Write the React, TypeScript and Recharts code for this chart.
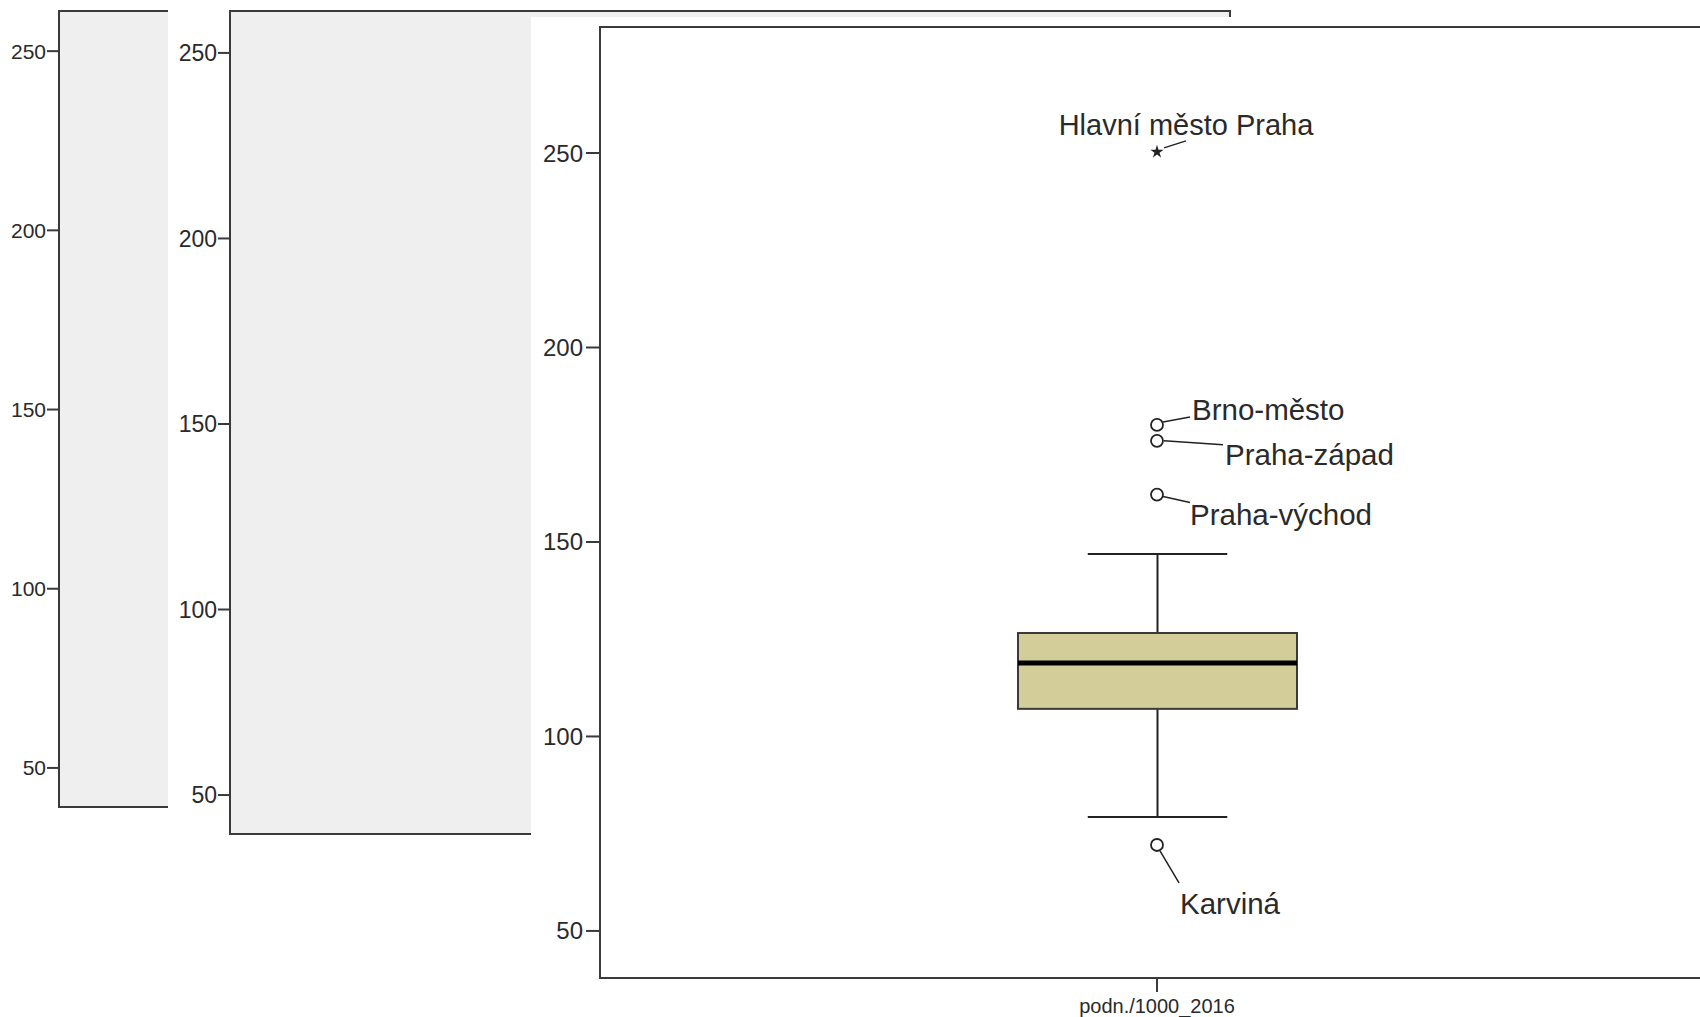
import { ComposedChart, XAxis, YAxis, Bar, Scatter, ReferenceArea } from "recharts";

// single variable on the x axis
const categories = ["podn./1000_2016"];

// box statistics per category
const whiskerLow = [79.3];
const quartile1 = [107.1];
const medianValues = [118.9];
const quartile3 = [126.6];
const whiskerHigh = [146.9];

// outliers (circles) and extremes (stars)
const outlierNames = ["Hlavní město Praha", "Brno-město", "Praha-západ", "Praha-východ", "Karviná"];
const outlierValues = [250.3, 180.1, 176.0, 162.2, 72.1];
const outlierExtreme = [true, false, false, false, false];

const yTicks = [50, 100, 150, 200, 250];

const FONT = '"Liberation Sans", Arial, sans-serif';
const INK = "#222";
const TEXT = "#2a2a2a";
const FRAME = "#3a3a3a";
const BOX_FILL = "#d3ce99";
const PANEL_GRAY = "#efefef";

const boxData = categories.map((name, i) => ({
  name,
  box: [quartile1[i], quartile3[i]],
  median: medianValues[i],
  low: whiskerLow[i],
  high: whiskerHigh[i],
}));

const outlierData = outlierNames.map((label, i) => ({
  name: categories[0],
  label,
  v: outlierValues[i],
  extreme: outlierExtreme[i],
}));

// where each label and its leader line sit relative to the point
const labelLayout: Record<string, { l: number[]; tx: number; ty: number; anchor: "start" | "middle"; size: number }> = {
  "Hlavní město Praha": { l: [7, -4, 29, -11], tx: 29, ty: -17, anchor: "middle", size: 29 },
  "Brno-město": { l: [6, -3, 33, -8], tx: 35, ty: -5, anchor: "start", size: 29.5 },
  "Praha-západ": { l: [7, 0, 66, 4], tx: 68, ty: 24, anchor: "start", size: 29.5 },
  "Praha-východ": { l: [6, 2, 33, 8], tx: 33, ty: 30, anchor: "start", size: 29.5 },
  "Karviná": { l: [3, 6, 22, 38], tx: 23, ty: 69, anchor: "start", size: 29.5 },
};

function BoxShape(props: any) {
  const { x, y, width, height, payload } = props;
  const top = Math.min(y, y + height);
  const h = Math.abs(height);
  const [q1, q3] = payload.box;
  const ppu = h / (q3 - q1);
  const toY = (v: number) => top + (q3 - v) * ppu;
  const cx = x + width / 2;
  const cap = width * 0.25;
  return (
    <g>
      <line x1={cx} x2={cx} y1={toY(payload.high)} y2={top} stroke={INK} strokeWidth={2} />
      <line x1={cx} x2={cx} y1={top + h} y2={toY(payload.low)} stroke={INK} strokeWidth={2} />
      <line x1={cx - cap} x2={cx + cap} y1={toY(payload.high)} y2={toY(payload.high)} stroke={INK} strokeWidth={2} />
      <line x1={cx - cap} x2={cx + cap} y1={toY(payload.low)} y2={toY(payload.low)} stroke={INK} strokeWidth={2} />
      <rect x={x} y={top} width={width} height={h} fill={BOX_FILL} stroke={FRAME} strokeWidth={2} />
      <line x1={x} x2={x + width} y1={toY(payload.median)} y2={toY(payload.median)} stroke="#000" strokeWidth={5} />
    </g>
  );
}

function starPoints(cx: number, cy: number, ro: number, ri: number) {
  const pts: string[] = [];
  for (let k = 0; k < 10; k++) {
    const r = k % 2 === 0 ? ro : ri;
    const a = -Math.PI / 2 + (k * Math.PI) / 5;
    pts.push(`${cx + r * Math.cos(a)},${cy + r * Math.sin(a)}`);
  }
  return pts.join(" ");
}

function OutlierShape(props: any) {
  const { cx, cy, payload } = props;
  if (cx == null || cy == null) return null;
  const lay = labelLayout[payload.label];
  return (
    <g>
      {payload.extreme ? (
        <polygon points={starPoints(cx, cy, 7, 2.6)} fill={INK} />
      ) : (
        <circle cx={cx} cy={cy} r={6} fill="#fff" stroke={INK} strokeWidth={1.8} />
      )}
      <line
        x1={cx + lay.l[0]}
        y1={cy + lay.l[1]}
        x2={cx + lay.l[2]}
        y2={cy + lay.l[3]}
        stroke={INK}
        strokeWidth={1.5}
      />
      <text
        x={cx + lay.tx}
        y={cy + lay.ty}
        textAnchor={lay.anchor}
        fontSize={lay.size}
        fontFamily={FONT}
        fill={TEXT}
      >
        {payload.label}
      </text>
    </g>
  );
}

interface BackPanelProps {
  width: number;
  height: number;
  margin: { top: number; right: number; bottom: number; left: number };
  domain: [number, number];
  fontSize: number;
}

function BackPanel({ width, height, margin, domain, fontSize }: BackPanelProps) {
  return (
    <ComposedChart width={width} height={height} data={boxData} margin={margin}>
      <XAxis dataKey="name" hide />
      <YAxis
        type="number"
        domain={domain}
        allowDataOverflow
        ticks={yTicks}
        width={50}
        axisLine={false}
        tickSize={12}
        tickMargin={1}
        tickLine={{ stroke: FRAME, strokeWidth: 2 }}
        tick={{ fontSize, fill: TEXT, fontFamily: FONT }}
      />
      <ReferenceArea
        y1={domain[0]}
        y2={domain[1]}
        fill={PANEL_GRAY}
        fillOpacity={1}
        stroke={FRAME}
        strokeWidth={2}
        ifOverflow="visible"
      />
    </ComposedChart>
  );
}

export default function App() {
  const frontDomain: [number, number] = [37.9, 282.4];
  return (
    <div
      style={{
        position: "absolute",
        left: 0,
        top: 0,
        width: 1700,
        height: 1017,
        overflow: "hidden",
        background: "#fff",
        fontFamily: FONT,
      }}
    >
      <div style={{ position: "absolute", left: 0, top: 0 }}>
        <BackPanel
          width={600}
          height={1017}
          margin={{ top: 11, right: 0, bottom: 210, left: 9 }}
          domain={[39.1, 261.2]}
          fontSize={21}
        />
      </div>
      <div style={{ position: "absolute", left: 168, top: 0, width: 1532, height: 1017, background: "#fff" }}>
        <BackPanel
          width={1100}
          height={1017}
          margin={{ top: 11, right: 38, bottom: 183, left: 12 }}
          domain={[39.5, 261.3]}
          fontSize={23}
        />
      </div>
      <div style={{ position: "absolute", left: 531, top: 17, width: 1169, height: 1000, background: "#fff" }}>
        <ComposedChart width={1200} height={1000} data={boxData} margin={{ top: 10, right: 17, bottom: 0, left: 9 }}>
          <XAxis
            dataKey="name"
            type="category"
            allowDuplicatedCategory={false}
            height={39}
            axisLine={false}
            tickSize={14}
            tickMargin={7}
            tickLine={{ stroke: FRAME, strokeWidth: 2 }}
            tick={{ fontSize: 20, fill: TEXT, fontFamily: FONT }}
          />
          <YAxis
            type="number"
            domain={frontDomain}
            allowDataOverflow
            ticks={yTicks}
            width={60}
            axisLine={false}
            tickSize={14}
            tickMargin={3}
            tickLine={{ stroke: FRAME, strokeWidth: 2 }}
            tick={{ fontSize: 24, fill: TEXT, fontFamily: FONT }}
          />
          <ReferenceArea
            y1={frontDomain[0]}
            y2={frontDomain[1]}
            fill="#fff"
            fillOpacity={0}
            stroke={FRAME}
            strokeWidth={2}
            ifOverflow="visible"
          />
          <Bar dataKey="box" barSize={279} shape={<BoxShape />} isAnimationActive={false} />
          <Scatter data={outlierData} dataKey="v" shape={<OutlierShape />} isAnimationActive={false} />
        </ComposedChart>
      </div>
    </div>
  );
}
